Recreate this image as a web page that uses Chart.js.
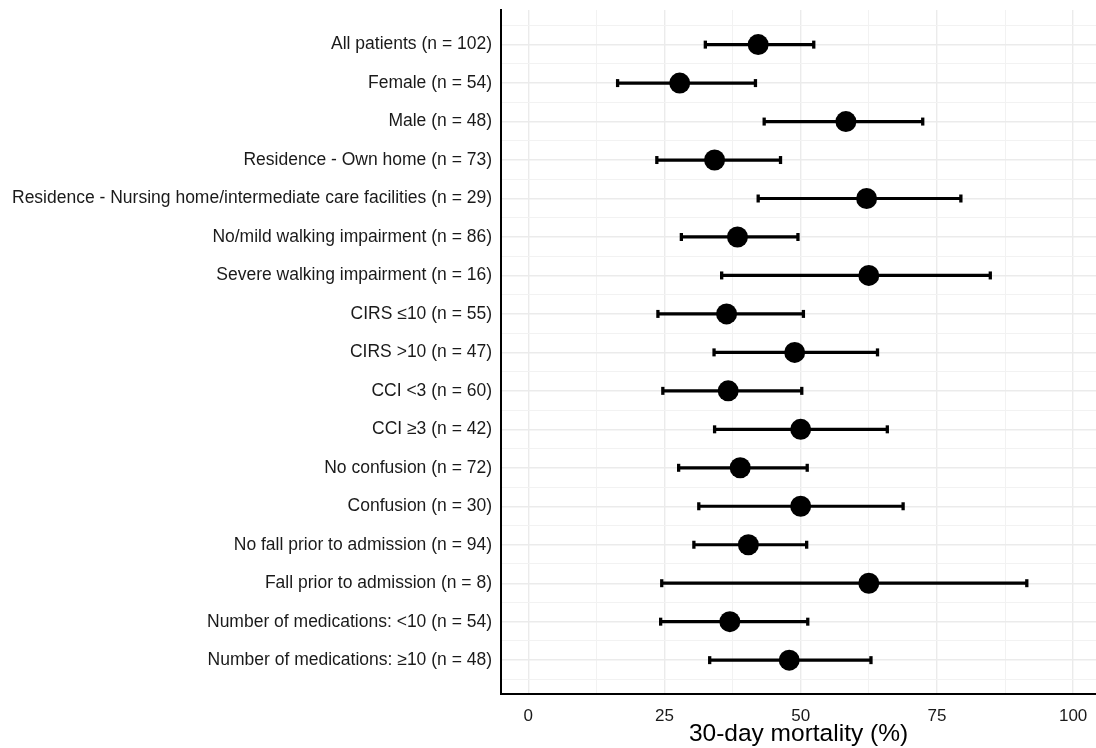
<!DOCTYPE html>
<html>
<head>
<meta charset="utf-8">
<script src="https://cdn.jsdelivr.net/npm/chart.js@4/dist/chart.umd.min.js"></script>
<style>
  html, body { margin: 0; padding: 0; background: #ffffff; }
  #wrap { width: 1096px; height: 748px; position: relative; }
</style>
</head>
<body>
<div id="wrap"><canvas id="c"></canvas></div>
<script>
const categories = [
  "All patients (n = 102)",
  "Female (n = 54)",
  "Male (n = 48)",
  "Residence - Own home (n = 73)",
  "Residence - Nursing home/intermediate care facilities (n = 29)",
  "No/mild walking impairment (n = 86)",
  "Severe walking impairment (n = 16)",
  "CIRS \u226410 (n = 55)",
  "CIRS >10 (n = 47)",
  "CCI <3 (n = 60)",
  "CCI \u22653 (n = 42)",
  "No confusion (n = 72)",
  "Confusion (n = 30)",
  "No fall prior to admission (n = 94)",
  "Fall prior to admission (n = 8)",
  "Number of medications: <10 (n = 54)",
  "Number of medications: \u226510 (n = 48)"
];
const estimates = [42.2, 27.8, 58.3, 34.2, 62.1, 38.4, 62.5, 36.4, 48.9, 36.7, 50.0, 38.9, 50.0, 40.4, 62.5, 37.0, 47.9];
const lower     = [32.5, 16.4, 43.3, 23.6, 42.2, 28.1, 35.5, 23.8, 34.1, 24.7, 34.2, 27.6, 31.3, 30.4, 24.5, 24.3, 33.3];
const upper     = [52.4, 41.7, 72.4, 46.3, 79.4, 49.5, 84.8, 50.5, 64.1, 50.2, 65.9, 51.2, 68.8, 51.1, 91.5, 51.3, 62.9];
const xTickValues = [0, 12.5, 25, 37.5, 50, 62.5, 75, 87.5, 100];
const xAxisTitle = "30-day mortality (%)";

const pointData = estimates.map((v, i) => ({ x: v, y: i }));
const barData = [];
lower.forEach((lo, i) => {
  barData.push({ x: lo, y: i });
  barData.push({ x: upper[i], y: i });
  barData.push({ x: lo, y: null });
});
const capData = [];
lower.forEach((lo, i) => {
  capData.push({ x: lo, y: i });
  capData.push({ x: upper[i], y: i });
});
const yTickValues = [];
for (let v = -0.5; v <= categories.length - 0.5; v += 0.5) yTickValues.push(v);

const FONT = "'Liberation Sans', Arial, sans-serif";

new Chart(document.getElementById('c'), {
  type: 'scatter',
  data: {
    datasets: [
      {
        type: 'scatter',
        data: pointData,
        backgroundColor: '#000000',
        borderColor: '#000000',
        pointRadius: 10.5,
        pointHoverRadius: 10.5,
        borderWidth: 0
      },
      {
        type: 'scatter',
        data: capData,
        pointStyle: 'line',
        rotation: 90,
        pointRadius: 4,
        pointHoverRadius: 4,
        borderColor: '#000000',
        borderWidth: 3.3
      },
      {
        type: 'line',
        data: barData,
        borderColor: '#000000',
        borderWidth: 3.2,
        pointRadius: 0,
        spanGaps: false,
        fill: false,
        tension: 0
      }
    ]
  },
  options: {
    responsive: true,
    maintainAspectRatio: false,
    animation: false,
    layout: { autoPadding: false, padding: { top: 10, right: 0, left: 0, bottom: 0 } },
    plugins: { legend: { display: false }, tooltip: { enabled: false } },
    scales: {
      x: {
        type: 'linear',
        min: -5,
        max: 104.2,
        afterBuildTicks: (s) => { s.ticks = xTickValues.map(v => ({ value: v })); },
        afterFit: (s) => { s.height = 54; s.paddingLeft = 0; s.paddingRight = 0; },
        grid: {
          color: (ctx) => (ctx.tick && ctx.tick.value % 25 === 0) ? '#ebebeb' : '#f2f2f2',
          lineWidth: (ctx) => (ctx.tick && ctx.tick.value % 25 === 0) ? 1.4 : 1,
          drawTicks: false
        },
        border: { display: true, color: '#000000', width: 2 },
        ticks: {
          autoSkip: false,
          maxRotation: 0,
          padding: 12,
          color: '#1a1a1a',
          font: { family: FONT, size: 17 },
          callback: (v) => (v % 25 === 0 ? String(v) : '')
        },
        title: {
          display: true,
          text: xAxisTitle,
          color: '#000000',
          font: { family: FONT, size: 24.5 },
          padding: { top: 0, bottom: -1 }
        }
      },
      y: {
        type: 'linear',
        reverse: true,
        min: -0.9,
        max: 16.88,
        afterBuildTicks: (s) => { s.ticks = yTickValues.map(v => ({ value: v })); },
        afterFit: (s) => { s.width = 501; s.paddingTop = 0; s.paddingBottom = 0; },
        grid: {
          color: (ctx) => (ctx.tick && Number.isInteger(ctx.tick.value)) ? '#ebebeb' : '#f2f2f2',
          lineWidth: (ctx) => (ctx.tick && Number.isInteger(ctx.tick.value)) ? 1.4 : 1,
          drawTicks: false
        },
        border: { display: true, color: '#000000', width: 2 },
        ticks: {
          autoSkip: false,
          padding: 9,
          color: '#1a1a1a',
          font: { family: FONT, size: 17.5 },
          callback: (v) => (Number.isInteger(v) ? categories[v] : '')
        }
      }
    }
  }
});
</script>
</body>
</html>
